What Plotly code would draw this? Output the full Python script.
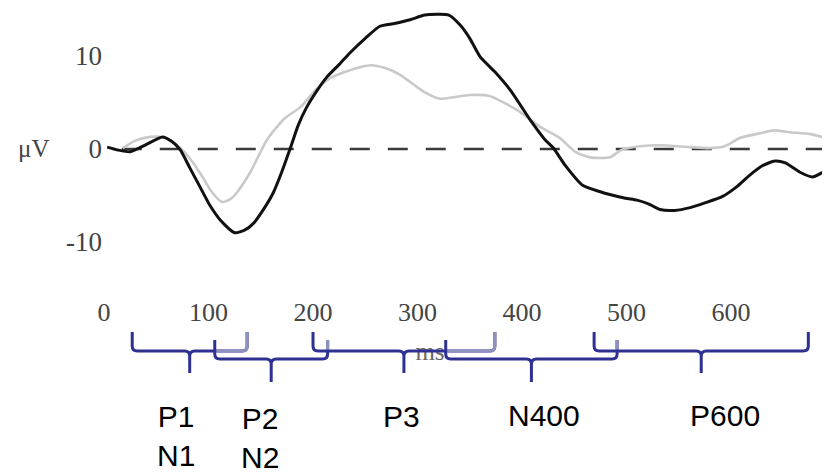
import plotly.graph_objects as go

# ---------------- data ----------------
# Grand-average ERP waveforms (time in ms, amplitude in microvolts)
black_ms = [3, 13, 25, 39, 56, 65, 73, 82, 92, 101,
            111, 125, 135, 143, 152, 162, 170, 178, 186, 194,
            204, 213, 226, 235, 250, 264, 278, 293, 307, 330,
            341, 350, 360, 374, 389, 408, 422, 430, 441, 458,
            475, 484, 499, 510, 521, 532, 546, 561, 575, 592,
            605, 618, 630, 642, 652, 666, 678, 688, 700]
black_uv = [0.2, -0.1, -0.3, 0.4, 1.3, 0.8, -0.1, -2.0, -4.1, -6.0,
            -7.6, -9.0, -8.7, -8.0, -6.6, -4.7, -2.5, 0.0, 2.6, 4.5,
            6.3, 7.7, 9.2, 10.3, 11.9, 13.2, 13.5, 13.9, 14.4, 14.4,
            13.3, 11.9, 9.9, 8.3, 6.3, 3.1, 1.0, 0.1, -1.7, -3.9,
            -4.6, -4.9, -5.3, -5.5, -5.9, -6.5, -6.6, -6.3, -5.8, -5.1,
            -4.1, -2.8, -1.8, -1.3, -1.5, -2.5, -3.0, -2.5, -1.6]

gray_ms = [18, 30, 44, 55, 65, 73, 82, 92, 103, 113,
           121, 127, 140, 156, 173, 188, 202, 216, 231, 245,
           256, 269, 283, 293, 307, 322, 336, 350, 369, 384,
           398, 417, 436, 451, 465, 484, 495, 513, 532, 561,
           580, 594, 609, 628, 642, 656, 676, 700]
gray_uv = [0.1, 0.9, 1.3, 1.3, 0.8, 0.1, -1.0, -2.6, -4.6, -5.7,
           -5.4, -4.7, -2.5, 1.0, 3.3, 4.5, 6.3, 7.6, 8.3, 8.8,
           9.0, 8.7, 8.0, 7.2, 6.1, 5.4, 5.6, 5.8, 5.7, 4.9,
           4.0, 2.4, 1.2, -0.3, -0.9, -0.9, -0.1, 0.3, 0.4, 0.2,
           0.1, 0.3, 1.2, 1.7, 2.0, 1.8, 1.6, 0.9]

baseline_ms = [17, 705]
baseline_uv = [0, 0]

x_tick_vals = [0, 100, 200, 300, 400, 500, 600]
x_tick_text = ["0", "100", "200", "300", "400", "500", "600"]
y_tick_vals = [-10, 0, 10]
y_tick_text = ["-10", "0", "10"]

# ERP component windows (ms)
component_labels = ["P1<br>N1", "P2<br>N2", "P3", "N400", "P600"]
window_start_ms = [27, 106, 200, 327, 469]
window_end_ms = [137, 214, 374, 491, 674]
component_row = [0, 1, 0, 1, 0]          # 0 = upper brace row, 1 = lower row
label_ms = [69, 149, 285, 421, 594]

# ---------------- geometry / style ----------------
W, H = 830, 475
PAGE_OFF = 8                      # page margin of the html body (px)
X0_PX, PX_PER_MS = 104, 1.045     # page px of t = 0
Y0_PX, PX_PER_UV = 149, 9.3       # page px of 0 uV


def ms_at(px):
    return (px - X0_PX) / PX_PER_MS


def uv_at(py):
    return (Y0_PX - py) / PX_PER_UV


def paper_x(px):
    return (px - PAGE_OFF) / W


def paper_y(py):
    return 1 - (py - PAGE_OFF) / H


NAVY = "#2E3192"
LIGHT = "#8F91BE"
SERIF = "Liberation Serif, Times New Roman, serif"
SANS = "Liberation Sans, Arial, sans-serif"

ROW_GEOM = {0: (332, 351, 373), 1: (340, 359, 382)}   # top, bar, tip (page px)
LABEL_PY = [435.5, 438, 416, 415, 415]

fig = go.Figure()

fig.add_trace(go.Scatter(x=baseline_ms, y=baseline_uv, mode="lines",
                         line=dict(color="#3a3a3a", width=2.6, dash="20px,18px"),
                         hoverinfo="skip", showlegend=False))
fig.add_trace(go.Scatter(x=gray_ms, y=gray_uv, mode="lines",
                         line=dict(color="#c9c9c9", width=2.6, shape="spline", smoothing=0.6),
                         showlegend=False))
fig.add_trace(go.Scatter(x=black_ms, y=black_uv, mode="lines",
                         line=dict(color="#111111", width=3, shape="spline", smoothing=0.6),
                         showlegend=False))
# "ms" axis title, partly hidden behind the braces
fig.add_trace(go.Scatter(x=[ms_at(430)], y=[uv_at(354)], mode="text", text=["ms"],
                         textfont=dict(family=SERIF, size=25, color="#666666"),
                         hoverinfo="skip", showlegend=False))

R = 5  # corner radius in px
rx = R / PX_PER_MS


def brace_path(x0, x1, top, bar, tip):
    xm = (x0 + x1) / 2
    yt, yb, ytip = uv_at(top), uv_at(bar), uv_at(tip)
    yb_up, yb_dn = uv_at(bar - R), uv_at(bar + R)
    return (f"M {x0},{yt} L {x0},{yb_up} Q {x0},{yb} {x0 + rx},{yb} "
            f"L {xm - rx},{yb} Q {xm},{yb} {xm},{yb_dn} L {xm},{ytip} "
            f"M {xm},{yb_dn} Q {xm},{yb} {xm + rx},{yb} "
            f"L {x1 - rx},{yb} Q {x1},{yb} {x1},{yb_up} L {x1},{yt}")


shapes = []
for s, e, row in zip(window_start_ms, window_end_ms, component_row):
    top, bar, tip = ROW_GEOM[row]
    shapes.append(dict(type="path", xref="x", yref="y", layer="above",
                       path=brace_path(s, e, top, bar, tip),
                       line=dict(color=NAVY, width=3)))

# lighter parts where neighbouring braces overlap
for i in range(len(window_start_ms) - 1):
    s_next = window_start_ms[i + 1]
    e = window_end_ms[i]
    if s_next >= e:
        continue
    top, bar, tip = ROW_GEOM[component_row[i]]
    if component_row[i] == 0:
        yb, yt, yb_up = uv_at(bar), uv_at(top), uv_at(bar - R)
        path = f"M {s_next + 1.5},{yb} L {e - rx},{yb} Q {e},{yb} {e},{yb_up} L {e},{yt}"
    else:
        up_bar = ROW_GEOM[0][1]
        path = f"M {e},{uv_at(top)} L {e},{uv_at(up_bar - 1.5)}"
    shapes.append(dict(type="path", xref="x", yref="y", layer="above",
                       path=path, line=dict(color=LIGHT, width=3.2)))

annotations = [dict(x=paper_x(33), y=paper_y(148), xref="paper", yref="paper",
                    xanchor="center", yanchor="middle",
                    text="\u03bcV", showarrow=False,
                    font=dict(family=SERIF, size=25, color="#444444"))]
for lab, lx, py in zip(component_labels, label_ms, LABEL_PY):
    annotations.append(dict(x=lx, y=paper_y(py), xref="x", yref="paper",
                            text=lab, showarrow=False,
                            xanchor="center", yanchor="middle",
                            font=dict(family=SANS, size=30, color="#000000")))

fig.update_layout(
    width=W, height=H,
    margin=dict(l=0, r=0, t=0, b=0),
    paper_bgcolor="white", plot_bgcolor="white",
    showlegend=False,
    xaxis=dict(range=[ms_at(PAGE_OFF), ms_at(PAGE_OFF + W)],
               tickvals=x_tick_vals, ticktext=x_tick_text,
               showgrid=False, zeroline=False, showline=False, ticks="",
               anchor="free", position=paper_y(294),
               tickfont=dict(family=SERIF, size=26, color="#444444")),
    yaxis=dict(range=[uv_at(PAGE_OFF + H), uv_at(PAGE_OFF)],
               tickvals=y_tick_vals, ticktext=y_tick_text,
               showgrid=False, zeroline=False, showline=False, ticks="",
               anchor="free", position=paper_x(102),
               tickfont=dict(family=SERIF, size=27, color="#444444")),
    shapes=shapes,
    annotations=annotations,
)

fig.write_html("out.html")
